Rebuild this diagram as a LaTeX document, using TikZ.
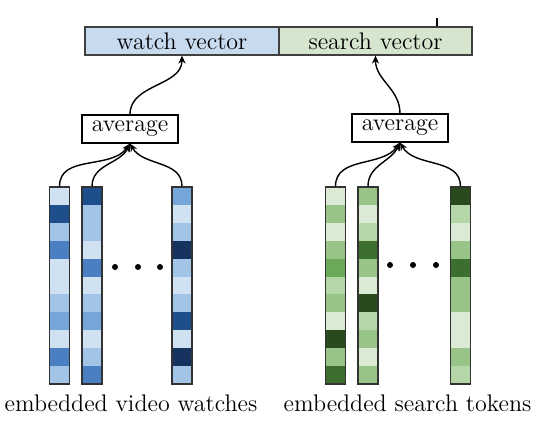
\documentclass[tikz,border=0pt]{standalone}
\usepackage{tikz}
\usetikzlibrary{arrows.meta, positioning, calc}

\definecolor{bA}{HTML}{D0E1F2}
\definecolor{bB}{HTML}{A2C4E6}
\definecolor{bC}{HTML}{76A6D9}
\definecolor{bD}{HTML}{4A80C2}
\definecolor{bE}{HTML}{1F4E8C}
\definecolor{bF}{HTML}{16325F}
\definecolor{gA}{HTML}{DBEAD4}
\definecolor{gB}{HTML}{B5D6A6}
\definecolor{gC}{HTML}{98C487}
\definecolor{gD}{HTML}{6AA85A}
\definecolor{gE}{HTML}{3C6E2E}
\definecolor{gF}{HTML}{2A4A1E}
\definecolor{watchfill}{HTML}{C8DAEE}
\definecolor{searchfill}{HTML}{D6E5CD}

\tikzset{
  vecbox/.style={draw=black!75, line width=0.6pt, minimum height=14pt, inner sep=0pt},
  avgbox/.style={draw, line width=0.6pt, fill=white, minimum width=48pt, minimum height=14pt, inner sep=0pt},
  colbox/.style={draw=black!80, line width=0.6pt, minimum width=10pt, minimum height=98.5pt, inner sep=0pt},
  link/.style={->, line width=0.7pt},
  dotmark/.style={circle, fill, inner sep=0pt, minimum size=3pt}
}

\newcommand{\embcol}[3]{
  \foreach \c [count=\i from 0] in {#3}
    \fill [\c] ({#2-10},{187+\i*17.9}) rectangle ++(20,17.9);
  \node (#1) at (#2,285.5) [colbox] {};
}

\begin{document}
\begin{tikzpicture}[x=0.5pt, y=-0.5pt, >={Stealth[length=4pt, width=3.6pt]}, font=\fontsize{12}{14}\selectfont]
    \useasboundingbox (0,0) rectangle (554,420);

    \node (watch) at (182,41) [vecbox, fill=watchfill, minimum width=97pt] {watch vector};
    \node (search) at (375.5,41) [vecbox, fill=searchfill, minimum width=96.5pt] {search vector};
    \draw [line width=0.6pt] ($(search.north)+(61.5,0)$) -- ++(0,-8);

    \node (avgw) at (130,129) [avgbox] {average};
    \node (avgs) at (400,128) [avgbox] {average};

    \embcol{vw1}{59.5}{bA,bE,bB,bD,bA,bA,bB,bC,bA,bD,bB}
    \embcol{vw2}{92}{bE,bB,bB,bA,bD,bA,bB,bC,bA,bB,bD}
    \embcol{vw3}{182}{bC,bA,bB,bF,bB,bA,bB,bE,bA,bF,bB}

    \embcol{st1}{335.5}{gA,gC,gA,gC,gD,gB,gC,gA,gF,gC,gE}
    \embcol{st2}{368}{gC,gA,gB,gE,gC,gA,gF,gB,gC,gA,gC}
    \embcol{st3}{460.5}{gF,gB,gA,gC,gE,gC,gC,gA,gA,gC,gB}

    \node (dw1) at (115,267) [dotmark] {};
    \node (dw2) at (138,267) [dotmark] {};
    \node (dw3) at (160,267) [dotmark] {};
    \node (ds1) at (390,265) [dotmark] {};
    \node (ds2) at (413,265) [dotmark] {};
    \node (ds3) at (436,265) [dotmark] {};

    \draw [link] (vw1.north) to [out=90, in=-125] (avgw.south);
    \draw [link] (vw2.north) to [out=90, in=-115] (avgw.south);
    \draw [link] (vw3.north) to [out=90, in=-60] (avgw.south);
    \draw [link] (st1.north) to [out=90, in=-125] (avgs.south);
    \draw [link] (st2.north) to [out=90, in=-115] (avgs.south);
    \draw [link] (st3.north) to [out=90, in=-60] (avgs.south);

    \draw [link] (avgw.north) to [out=90, in=-90] (watch.south);
    \draw [link] (avgs.north) to [out=90, in=-90] (search.south);

    \node (lw) at (131,403) {embedded video watches};
    \node (ls) at (407.5,403) {embedded search tokens};
\end{tikzpicture}
\end{document}
